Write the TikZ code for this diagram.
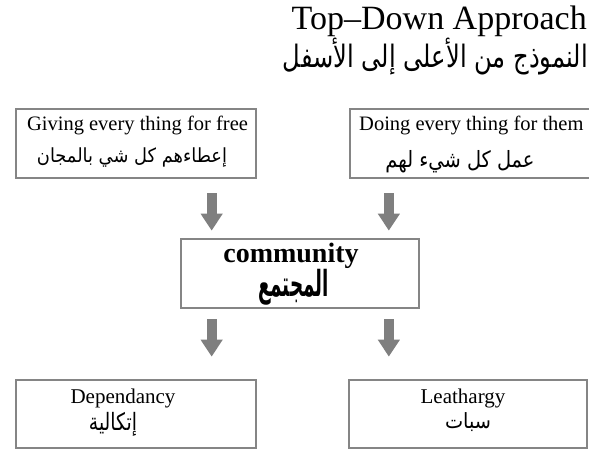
\documentclass[tikz,border=0pt]{standalone}
\usepackage{fontspec}
\usepackage{graphicx}
\setmainfont{Liberation Serif}
\newfontfamily\arabicfont[Script=Arabic]{DejaVu Sans}
\TeXXeTstate=1
\usetikzlibrary{arrows.meta,calc}
\definecolor{boxgray}{HTML}{858585}
\definecolor{arrgray}{HTML}{7F7F7F}
\tikzset{
  box/.style={draw=boxgray, line width=2.7pt, fill=white, rectangle, inner sep=0pt},
  bigarrow/.style={draw=arrgray, line width=10pt, -{Triangle[width=21pt,length=17pt]}},
  entext/.style={inner sep=0pt, anchor=base, font=\fontsize{20.5}{24}\selectfont},
  artext/.style={inner sep=0pt, anchor=north}
}
\begin{document}
\begin{tikzpicture}[x=1pt,y=-1pt]
\clip (0,0) rectangle (589,454);
\fill[white] (0,0) rectangle (589,454);
% title
\node[inner sep=0pt, anchor=base east, font=\fontsize{34}{40}\selectfont] (title) at (587,30) {Top–Down Approach};
\node[artext, anchor=north east] (titlear) at (588,38) {\resizebox*{305pt}{37pt}{\arabicfont\beginR النموذج من الأعلى إلى الأسفل\endR}};
% boxes
\node[box, minimum width=240pt, minimum height=69pt] (tl) at (136,143.5) {};
\node[box, minimum width=250pt, minimum height=69pt] (tr) at (475,143.5) {};
\node[box, minimum width=238pt, minimum height=69pt] (comm) at (300,273.5) {};
\node[box, minimum width=240pt, minimum height=68pt] (bl) at (136,414) {};
\node[box, minimum width=238pt, minimum height=68pt] (br) at (468,414) {};
% texts
\node[entext] (tlen) at (137.5,131) {Giving every thing for free};
\node[artext] (tlar) at (132,147.5) {\resizebox*{190pt}{19.5pt}{\arabicfont\beginR إعطاءهم كل شي بالمجان\endR}};
\node[entext, anchor=base west] (tren) at (359,131) {Doing every thing for them};
\node[artext] (trar) at (460,150) {\resizebox*{149pt}{22.5pt}{\arabicfont\beginR عمل كل شيء لهم\endR}};
\node[inner sep=0pt, anchor=base, font=\bfseries\fontsize{28}{32}\selectfont] (commen) at (291,263) {community};
\node[artext] (commar) at (293.5,269) {\resizebox*{71pt}{36pt}{\arabicfont\bfseries\beginR المجتمع\endR}};
\node[entext, font=\fontsize{21}{24}\selectfont] (blen) at (123,403) {Dependancy};
\node[artext] (blar) at (113,412) {\resizebox*{48pt}{24pt}{\arabicfont\beginR إتكالية\endR}};
\node[entext, font=\fontsize{21}{24}\selectfont] (bren) at (463,403) {Leathargy};
\node[artext] (brar) at (468,412) {\resizebox*{46pt}{19pt}{\arabicfont\beginR سبات\endR}};
% arrows
\draw[bigarrow] ($(tl.south -| comm.north west)+(32,14)$) -- ($(comm.north west)+(32,-7)$);
\draw[bigarrow] ($(tr.south -| comm.north east)+(-31.5,14)$) -- ($(comm.north east)+(-31.5,-7)$);
\draw[bigarrow] ($(comm.south west)+(32,10)$) -- ($(bl.north -| comm.south west)+(32,-22)$);
\draw[bigarrow] ($(comm.south east)+(-31.5,10)$) -- ($(br.north -| comm.south east)+(-31.5,-22)$);
\end{tikzpicture}
\end{document}
